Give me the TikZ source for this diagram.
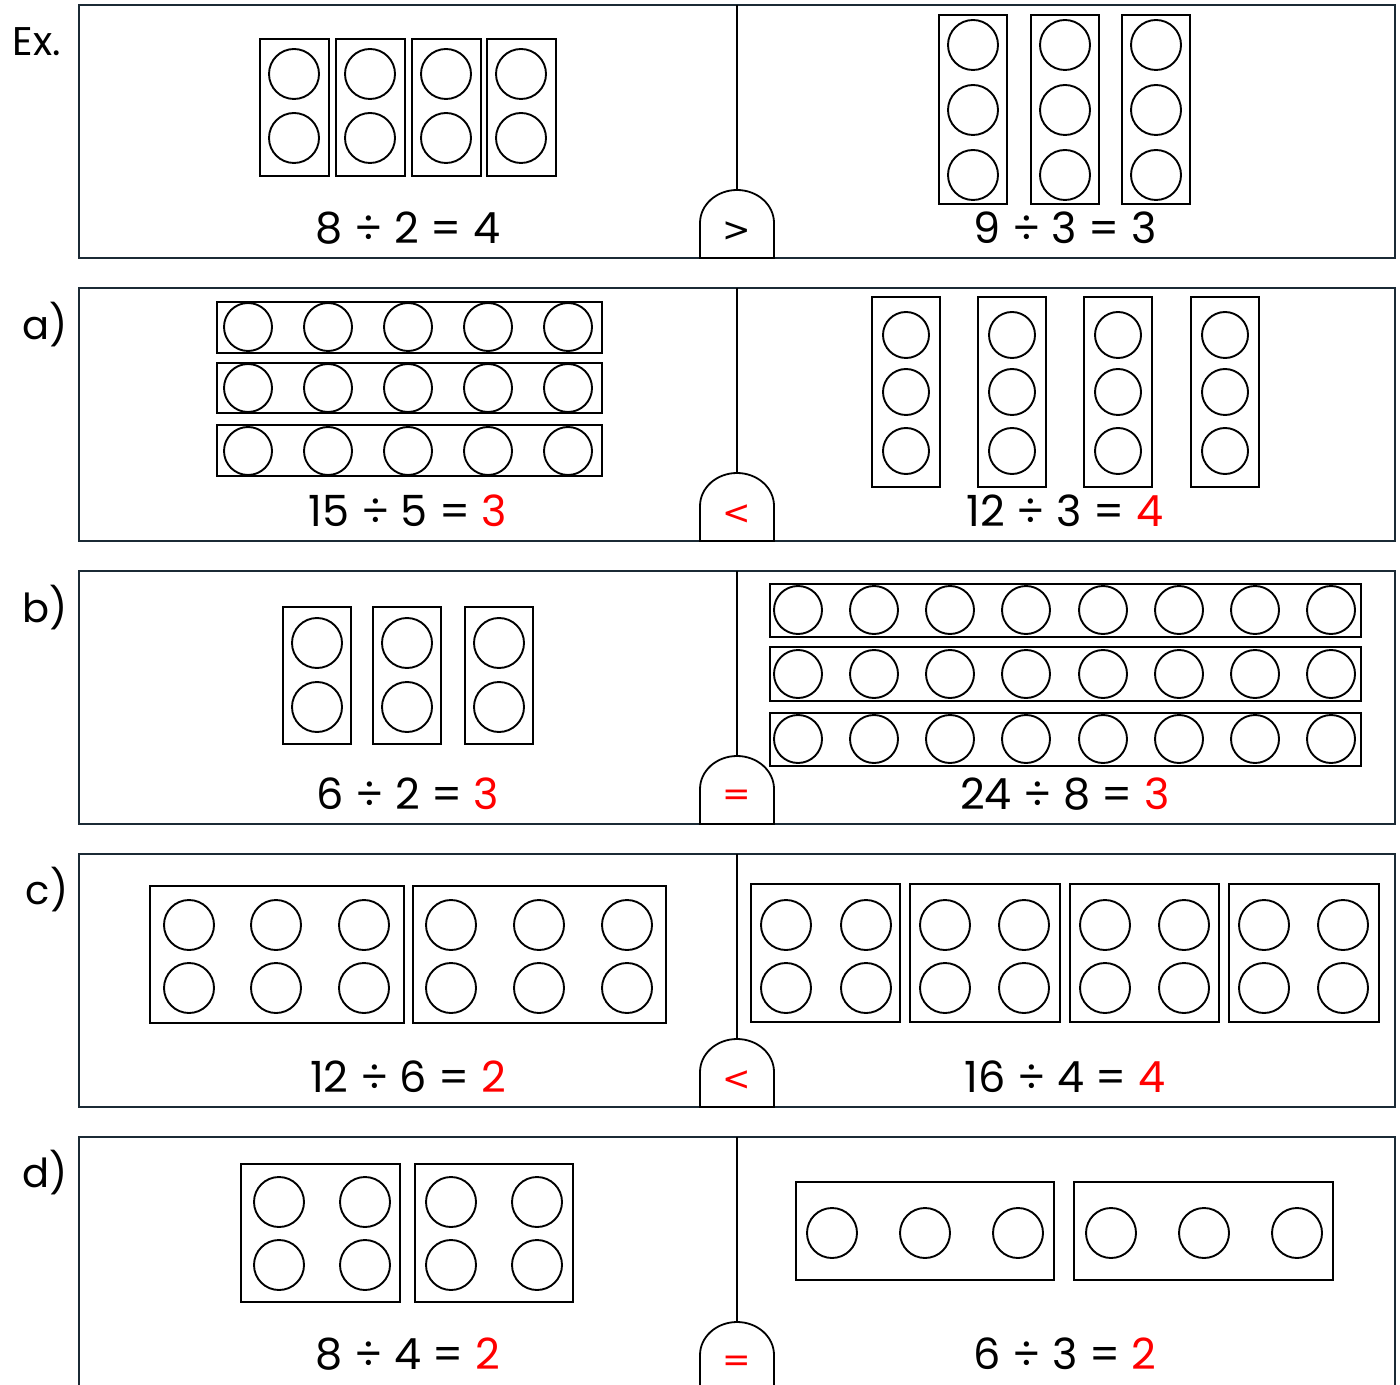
\documentclass[tikz,border=0pt]{standalone}
\usepackage{fontspec}
\setmainfont{Poppins}
\newfontfamily\signfont{DejaVu Sans}
\usetikzlibrary{positioning}

\definecolor{framecol}{HTML}{1B2A35}
\tikzset{
  frame/.style={draw=framecol, line width=1.3pt},
  tray/.style={draw, line width=1.1pt},
  counter/.style={draw, line width=0.95pt},
  divline/.style={draw, line width=0.9pt},
  sumtext/.style={font=\fontsize{21.5}{26}\selectfont, inner sep=0pt},
  parttext/.style={font=\fontsize{20}{24}\selectfont, inner sep=0pt},
  cmpsign/.style={font=\signfont\fontsize{17}{20}\selectfont, inner sep=0pt},
}
% comparison cap on the divider: name, bottom y, sign, colour
\newcommand{\cmpgate}[4]{%
  \draw[divline, fill=white] (700,#2) -- (700,#2-35)
    arc[start angle=180, end angle=360, x radius=37, y radius=33] -- (774,#2) -- cycle;
  \node[cmpsign, text=#4] (#1) at (737,#2-26) {#3};}

\begin{document}
\begin{tikzpicture}[x=0.5pt, y=-0.5pt]
  \useasboundingbox (0,0) rectangle (1400,1384);
  \clip (0,0) rectangle (1400,1384);

  % Ex.
  \node[parttext] (lblex) at (37,42) {Ex.};
  \draw[frame] (79,5) rectangle (1395,258);
  \draw[divline] (737,5) -- (737,190);
  \foreach \x in {260,336,412,487} \draw[tray] (\x,39) rectangle (\x+69,176);
  \foreach \x in {294,370,446,521} \foreach \y in {74,138} \draw[counter] (\x,\y) circle[radius=25];
  \foreach \x in {939,1031,1122} \draw[tray] (\x,15) rectangle (\x+68,204);
  \foreach \x in {973,1065,1156} \foreach \y in {45,110,175} \draw[counter] (\x,\y) circle[radius=25];
  \node[sumtext] (sumexl) at (408,228) {8 ÷ 2 = 4};
  \node[sumtext] (sumexr) at (1065,228) {9 ÷ 3 = 3};
  \cmpgate{cmpex}{258}{>}{black}

  % a)
  \node[parttext] (lbla) at (45,325) {a)};
  \draw[frame] (79,288) rectangle (1395,541);
  \draw[divline] (737,288) -- (737,473);
  \foreach \y/\h in {302/353,363/413,425/476} \draw[tray] (217,\y) rectangle (602,\h);
  \foreach \x in {248,328,408,488,568} \foreach \y in {327,388,451} \draw[counter] (\x,\y) circle[radius=24];
  \foreach \x in {872,978,1084,1191} \draw[tray] (\x,297) rectangle (\x+68,487);
  \foreach \x in {906,1012,1118,1225} \foreach \y in {335,392,451} \draw[counter] (\x,\y) circle[radius=23];
  \node[sumtext] (sumal) at (408,511) {15 ÷ 5 = \textcolor{red}{3}};
  \node[sumtext] (sumar) at (1065,511) {12 ÷ 3 = \textcolor{red}{4}};
  \cmpgate{cmpa}{541}{<}{red}

  % b)
  \node[parttext] (lblb) at (45,608) {b)};
  \draw[frame] (79,571) rectangle (1395,824);
  \draw[divline] (737,571) -- (737,756);
  \foreach \x in {283,373,465} \draw[tray] (\x,607) rectangle (\x+68,744);
  \foreach \x in {317,407,499} \foreach \y in {643,707} \draw[counter] (\x,\y) circle[radius=25];
  \foreach \y/\h in {584/637,647/701,713/766} \draw[tray] (770,\y) rectangle (1361,\h);
  \foreach \x in {798,874,950,1026,1103,1179,1255,1331} \foreach \y in {610,674,739} \draw[counter] (\x,\y) circle[radius=24];
  \node[sumtext] (sumbl) at (408,794) {6 ÷ 2 = \textcolor{red}{3}};
  \node[sumtext] (sumbr) at (1065,794) {24 ÷ 8 = \textcolor{red}{3}};
  \cmpgate{cmpb}{824}{=}{red}

  % c)
  \node[parttext] (lblc) at (47,890) {c)};
  \draw[frame] (79,854) rectangle (1395,1107);
  \draw[divline] (737,854) -- (737,1039);
  \foreach \x/\w in {150/404,413/666} \draw[tray] (\x,886) rectangle (\w,1023);
  \foreach \x in {189,276,364,451,539,627} \foreach \y in {925,988} \draw[counter] (\x,\y) circle[radius=25];
  \foreach \x/\w in {751/900,910/1060,1070/1219,1229/1379} \draw[tray] (\x,884) rectangle (\w,1022);
  \foreach \x in {786,866,945,1024,1105,1184,1264,1343} \foreach \y in {925,988} \draw[counter] (\x,\y) circle[radius=25];
  \node[sumtext] (sumcl) at (408,1077) {12 ÷ 6 = \textcolor{red}{2}};
  \node[sumtext] (sumcr) at (1065,1077) {16 ÷ 4 = \textcolor{red}{4}};
  \cmpgate{cmpc}{1107}{<}{red}

  % d)
  \node[parttext] (lbld) at (45,1173) {d)};
  \draw[frame] (79,1137) rectangle (1395,1390);
  \draw[divline] (737,1137) -- (737,1322);
  \foreach \x/\w in {241/400,415/573} \draw[tray] (\x,1164) rectangle (\w,1302);
  \foreach \x in {279,365,451,537} \foreach \y in {1202,1265} \draw[counter] (\x,\y) circle[radius=25];
  \foreach \x/\w in {796/1054,1074/1333} \draw[tray] (\x,1182) rectangle (\w,1280);
  \foreach \x in {832,925,1018,1111,1204,1297} \draw[counter] (\x,1233) circle[radius=25];
  \node[sumtext] (sumdl) at (408,1354) {8 ÷ 4 = \textcolor{red}{2}};
  \node[sumtext] (sumdr) at (1065,1354) {6 ÷ 3 = \textcolor{red}{2}};
  \cmpgate{cmpd}{1390}{=}{red}
\end{tikzpicture}
\end{document}
